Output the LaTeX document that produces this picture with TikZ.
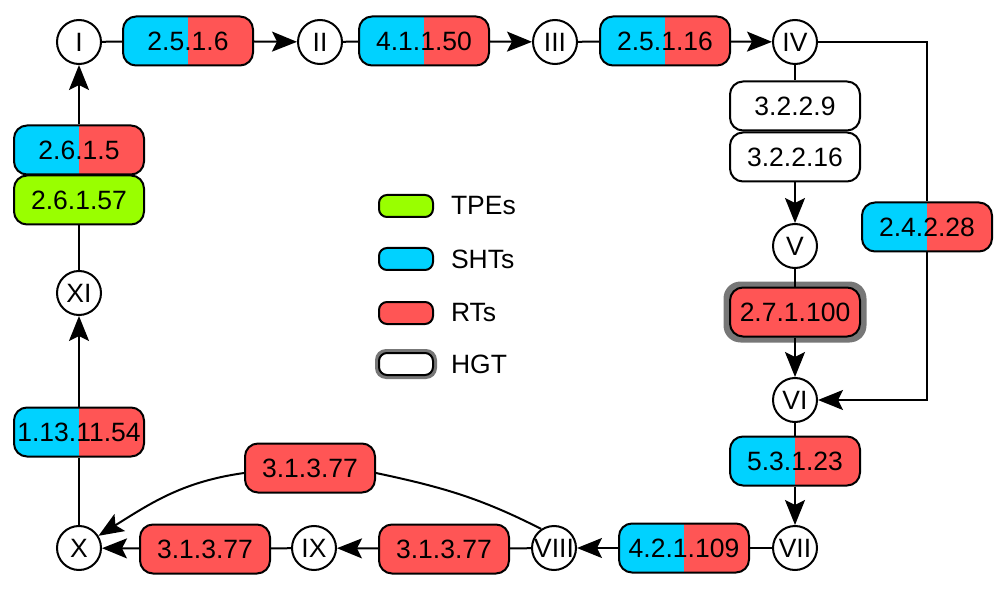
\documentclass[tikz,border=0pt]{standalone}
\usepackage{fontspec}
\setmainfont{Liberation Sans}
\usetikzlibrary{arrows.meta}
\definecolor{cy}{RGB}{0,210,255}
\definecolor{rd}{RGB}{255,85,85}
\definecolor{gr}{RGB}{153,255,0}
\definecolor{hg}{RGB}{119,119,119}
\begin{document}
\begin{tikzpicture}[x=1pt,y=-1pt,
  font=\fontsize{26.5}{30}\selectfont,
  line width=2pt,
  arr/.style={-{Stealth[length=25pt,width=20pt,inset=5pt]}},
  rn/.style={circle,draw,fill=white,minimum size=44pt,inner sep=0pt},
  ec/.style={draw,rounded corners=13pt,minimum width=130pt,minimum height=49pt,inner sep=0pt},
  sr/.style={ec,path picture={
      \fill[cy,sharp corners] (path picture bounding box.south west) rectangle (path picture bounding box.north);
      \fill[rd,sharp corners] (path picture bounding box.south) rectangle (path picture bounding box.north east);}},
  rb/.style={ec,fill=rd},
  wb/.style={ec,fill=white},
  gb/.style={ec,fill=gr},
  halo/.style={fill=hg,rounded corners=17pt,minimum width=143pt,minimum height=61pt,inner sep=0pt},
  sw/.style={draw,rounded corners=8pt,minimum width=54pt,minimum height=22pt,inner sep=0pt},
  lt/.style={anchor=west,inner sep=0pt}
]
\useasboundingbox (0,0) rectangle (1007,596);

% roman numeral nodes
\node[rn] (I)    at (79,42)   {I};
\node[rn] (II)   at (320,42)  {II};
\node[rn] (III)  at (555,42)  {III};
\node[rn] (IV)   at (795,42)  {IV};
\node[rn] (V)    at (795,246) {V};
\node[rn] (VI)   at (795,400) {VI};
\node[rn] (VII)  at (795,548) {VII};
\node[rn] (VIII) at (554,548) {VIII};
\node[rn] (IX)   at (314,548) {IX};
\node[rn] (X)    at (79,548)  {X};
\node[rn] (XI)   at (79,293)  {XI};

% enzyme boxes
\node[sr] (b1)  at (188,41)  {2.5.1.6};
\node[sr] (b2)  at (424,41)  {4.1.1.50};
\node[sr] (b3)  at (665,41)  {2.5.1.16};
\node[wb] (b4)  at (795,106) {3.2.2.9};
\node[wb] (b5)  at (795,157) {3.2.2.16};
\node[sr] (b6)  at (927,227) {2.4.2.28};
\node[halo] (h7) at (795,312) {};
\node[rb] (b7)  at (795,312) {2.7.1.100};
\node[sr] (b8)  at (795,461) {5.3.1.23};
\node[sr] (b9)  at (684,548) {4.2.1.109};
\node[rb] (b10) at (444,549) {3.1.3.77};
\node[rb] (b11) at (205,549) {3.1.3.77};
\node[rb] (b12) at (310,468) {3.1.3.77};
\node[sr] (b13) at (79,432)  {1.13.11.54};
\node[gb] (b14) at (79,200)  {2.6.1.57};
\node[sr] (b15) at (79,150)  {2.6.1.5};

% connectors
\draw (I) -- (b1);   \draw[arr] (b1) -- (II);
\draw (II) -- (b2);  \draw[arr] (b2) -- (III);
\draw (III) -- (b3); \draw[arr] (b3) -- (IV);
\draw (IV) -- (b4);  \draw[arr] (b5) -- (V);
\draw (IV.east) -| (b6.north);
\draw[arr] (b6.south) |- (VI.east);
\draw (V) -- (b7);   \draw[arr] (b7) -- (VI);
\draw (VI) -- (b8);  \draw[arr] (b8) -- (VII);
\draw (VII) -- (b9); \draw[arr] (b9) -- (VIII);
\draw (VIII) -- (b10); \draw[arr] (b10) -- (IX);
\draw (IX) -- (b11); \draw[arr] (b11) -- (X);
\draw (VIII.124) to[out=153,in=-12] ([yshift=-5pt]b12.east);
\draw[arr] ([yshift=-5pt]b12.west) to[out=188,in=32] (X);
\draw (X) -- (b13);  \draw[arr] (b13) -- (XI);
\draw (XI) -- (b14); \draw[arr] (b15) -- (I);

% legend
\node[sw,fill=gr] (s1) at (406,206) {};
\node[lt] (t1) at (450,206) {TPEs};
\node[sw,fill=cy] (s2) at (406,259) {};
\node[lt] (t2) at (450,259) {SHTs};
\node[sw,fill=rd] (s3) at (406,313) {};
\node[lt] (t3) at (450,313) {RTs};
\node[fill=hg,rounded corners=11pt,minimum width=62pt,minimum height=30pt,inner sep=0pt] (s4h) at (406,364) {};
\node[sw,fill=white] (s4) at (406,364) {};
\node[lt] (t4) at (450,364) {HGT};
\end{tikzpicture}
\end{document}
